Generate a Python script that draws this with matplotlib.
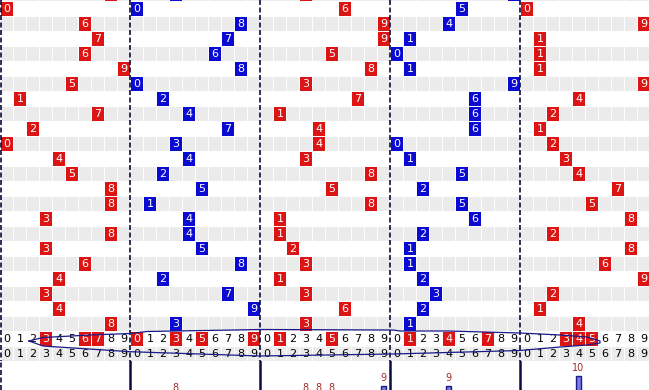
import matplotlib
matplotlib.use('Agg')
import matplotlib.pyplot as plt
from matplotlib.patches import Rectangle

# ---------------- data ----------------
# digit drawn in each panel, one entry per row (first entry = partially visible top row)
pos1 = [8, 0, 6, 7, 6, 9, 5, 1, 7, 2, 0, 4, 5, 8, 8, 3, 8, 3, 6, 4, 3, 4, 8]
pos2 = [3, 0, 8, 7, 6, 8, 0, 2, 4, 7, 3, 4, 2, 5, 1, 4, 4, 5, 8, 2, 7, 9, 3]
pos3 = [3, 6, 9, 9, 5, 8, 3, 7, 1, 4, 4, 3, 8, 5, 8, 1, 1, 2, 3, 1, 3, 6, 3]
pos4 = [9, 5, 4, 1, 0, 1, 9, 6, 6, 6, 0, 1, 5, 2, 5, 6, 2, 1, 1, 2, 3, 2, 1]
pos5 = [None, 0, 9, 1, 1, 1, 9, 4, 2, 1, 2, 3, 4, 7, 5, 8, 2, 8, 6, 9, 2, 1, 4]
panels = [pos1, pos2, pos3, pos4, pos5]
panel_kind = ['red', 'blue', 'red', 'blue', 'red']

# highlighted digits in the distribution row
hi1 = [3, 6, 7]
hi2 = [0, 3, 5, 9]
hi3 = [1, 5]
hi4 = [1, 4, 7]
hi5 = [3, 4, 5]
highlights = [hi1, hi2, hi3, hi4, hi5]

digits = list(range(10))

# frequency bars under each panel (only the tallest reach the visible area)
freq1 = [5, 4, 3, 6, 6, 5, 6, 5, 7, 3]
freq2 = [4, 3, 5, 8, 7, 6, 3, 5, 5, 3]
freq3 = [2, 7, 3, 8, 8, 8, 4, 4, 6, 9]
freq4 = [5, 7, 7, 4, 9, 5, 6, 3, 2, 4]
freq5 = [3, 7, 6, 3, 10, 3, 4, 2, 4, 6]
freqs = [freq1, freq2, freq3, freq4, freq5]

# decorative loop drawn over the distribution rows (pixel positions)
loop_px = [(29, 341), (43, 337.5), (90, 335), (130, 333.5), (147, 331.5), (233, 330),
           (260, 329.5), (393, 330), (400, 331), (447, 331), (520, 333), (560, 335),
           (587, 337), (600, 341), (600, 343), (587, 345), (560, 347), (520, 350.5),
           (393, 354), (260, 356), (130, 351.7), (43, 346), (29, 341)]

# ---------------- style ----------------
W, H = 649, 390
CW, RH = 13.0, 15.0
RED = '#dc1414'
BLUE = '#0a0ad2'
GRAY = '#ebebeb'
NAVY = '#0a0a40'
FS = 8

fig = plt.figure(figsize=(W / 100, H / 100), dpi=100)
ax = fig.add_axes([0, 0, 1, 1])
ax.set_xlim(0, W / CW)
ax.set_ylim((H - 1) / RH, -1 / RH)
ax.axis('off')

n_rows = len(pos1)
first_row = -1
dist_row = first_row + n_rows          # 22
dist_row2 = dist_row + 1               # 23
ncols = 50

# row backgrounds
for r in range(first_row, dist_row2 + 1):
    if r % 2 != 0:
        for c in range(ncols):
            ax.add_patch(Rectangle((c + 1 / CW, r + 0.5 / RH), 12 / CW, 14 / RH,
                                   facecolor=GRAY, edgecolor='none', zorder=1))

# number boxes
for p, (vals, kind) in enumerate(zip(panels, panel_kind)):
    col = RED if kind == 'red' else BLUE
    for i, v in enumerate(vals):
        if v is None:
            continue
        r = first_row + i
        c = p * 10 + v
        ax.add_patch(Rectangle((c + 1.3 / CW, r + 1 / RH), 11.5 / CW, 13.5 / RH,
                               facecolor=col, edgecolor='none', zorder=3))
        if r >= 0:  # digit of the cut-off top row lies outside the picture
            ax.text(c + 0.55, r + 0.55, str(v), color='white', fontsize=FS,
                    ha='center', va='center', zorder=4)

# distribution rows
for p in range(5):
    for d in digits:
        c = p * 10 + d
        if d in highlights[p]:
            ax.add_patch(Rectangle((c + 1.3 / CW, dist_row + 1 / RH), 11.5 / CW, 13.5 / RH,
                                   facecolor=RED, edgecolor='none', zorder=3))
            ax.text(c + 0.55, dist_row + 0.55, str(d), color='white', fontsize=FS,
                    ha='center', va='center', zorder=4)
        else:
            ax.text(c + 0.55, dist_row + 0.55, str(d), color='black', fontsize=FS,
                    ha='center', va='center', zorder=4)
        ax.text(c + 0.55, dist_row2 + 0.55, str(d), color='black', fontsize=FS,
                ha='center', va='center', zorder=4)

# panel separators (dashed) in the grid area
for x in [0.08, 10, 20, 30, 40]:
    ax.plot([x, x], [-1 / RH, dist_row2 + 1], color=NAVY, lw=1.2,
            linestyle=(0, (3, 1.5)), zorder=5)

# decorative loop
lx = [px / CW for px, py in loop_px]
ly = [(py - 1) / RH for px, py in loop_px]
ax.plot(lx, ly, color='#1a1a8a', lw=0.9, zorder=6)

# ---------------- bottom frequency bars ----------------
ax2 = fig.add_axes([0, 0, 1, 29 / H])
ax2.set_xlim(0, W / CW)
ylo, yhi = 8.6, 11.5
ax2.set_ylim(ylo, yhi)
ax2.axis('off')
for p in range(5):
    xs = [p * 10 + d + 0.5 for d in digits]
    ax2.bar(xs, freqs[p], width=0.42, bottom=0, facecolor='#7a7ae6',
            edgecolor='#1c1c80', linewidth=1.0, zorder=2)
    for x, v in zip(xs, freqs[p]):
        if v + 0.82 + 0.4 > ylo:  # labels of short bars fall below the picture
            ax2.text(x, v + 0.82, str(v), color='#a52a2a', fontsize=7,
                     ha='center', va='center', clip_on=True, zorder=3)
for x in [10, 20, 30, 40]:
    ax2.plot([x, x], [ylo, yhi], color=NAVY, lw=1.8, zorder=4)
ax2.plot([0.08, 0.08], [ylo, yhi], color=NAVY, lw=1.2, linestyle=(0, (3, 1.5)), zorder=4)

fig.savefig('out.png', dpi=100)
